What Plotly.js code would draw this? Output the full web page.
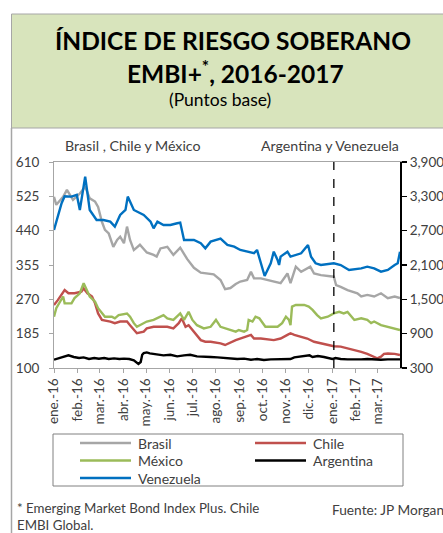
<!DOCTYPE html>
<html>
<head>
<meta charset="utf-8">
<script src="https://cdn.plot.ly/plotly-3.0.1.min.js"></script>
<style>
html,body{margin:0;padding:0;background:#fff;}
#chart{width:443px;height:533px;}
</style>
</head>
<body>
<div id="chart"></div>
<script>
// ---------- DATA ----------
const monthTicks = ['2016-01-01','2016-02-01','2016-03-01','2016-04-01','2016-05-01','2016-06-01','2016-07-01','2016-08-01','2016-09-01','2016-10-01','2016-11-01','2016-12-01','2017-01-01','2017-02-01','2017-03-01'];
const monthLabels = ['ene.-16','feb.-16','mar.-16','abr.-16','may.-16','jun.-16','jul.-16','ago.-16','sep.-16','oct.-16','nov.-16','dic.-16','ene.-17','feb.-17','mar.-17'];
const yearBreakDate = '2017-01-03';

const brasilDates = ['2016-01-01','2016-01-04','2016-01-13','2016-01-18','2016-01-26','2016-02-04','2016-02-11','2016-02-17','2016-02-24','2016-02-28','2016-03-04','2016-03-08','2016-03-13','2016-03-19','2016-03-24','2016-03-28','2016-04-02','2016-04-06','2016-04-10','2016-04-15','2016-04-23','2016-05-02','2016-05-11','2016-05-15','2016-05-20','2016-05-29','2016-06-06','2016-06-15','2016-06-24','2016-07-03','2016-07-12','2016-07-20','2016-07-29','2016-08-07','2016-08-13','2016-08-20','2016-08-27','2016-09-02','2016-09-11','2016-09-16','2016-09-20','2016-09-29','2016-10-08','2016-10-16','2016-10-25','2016-11-03','2016-11-07','2016-11-14','2016-11-21','2016-12-03','2016-12-08','2016-12-17','2016-12-26','2017-01-03','2017-01-06','2017-01-12','2017-01-21','2017-02-03','2017-02-08','2017-02-16','2017-02-25','2017-03-06','2017-03-15','2017-03-24','2017-03-31'];
const brasilValues = [524,504,524,541,516,532,549,520,512,499,462,442,433,400,417,425,409,450,417,392,405,386,380,376,396,400,380,398,370,348,336,334,332,318,295,298,308,314,318,338,322,322,318,314,310,334,310,351,338,351,334,330,328,326,305,301,293,285,277,281,277,285,273,277,273];

const chileDates = ['2016-01-01','2016-01-06','2016-01-15','2016-01-20','2016-01-28','2016-02-06','2016-02-09','2016-02-14','2016-02-20','2016-02-24','2016-02-28','2016-03-04','2016-03-15','2016-03-21','2016-03-28','2016-04-06','2016-04-10','2016-04-15','2016-04-19','2016-04-28','2016-05-02','2016-05-11','2016-05-29','2016-06-06','2016-06-13','2016-06-17','2016-06-22','2016-06-26','2016-07-03','2016-07-12','2016-07-18','2016-07-25','2016-08-07','2016-08-13','2016-08-27','2016-09-02','2016-09-11','2016-09-16','2016-09-20','2016-09-29','2016-10-16','2016-10-25','2016-11-03','2016-11-07','2016-11-12','2016-11-21','2016-11-29','2016-12-08','2016-12-17','2016-12-26','2017-01-03','2017-01-12','2017-01-21','2017-01-30','2017-02-08','2017-02-16','2017-02-25','2017-03-01','2017-03-06','2017-03-10','2017-03-15','2017-03-24','2017-03-31'];
const chileValues = [256,268,293,285,285,289,297,285,277,260,235,219,215,211,215,215,206,194,186,190,198,202,202,198,211,223,202,206,190,169,165,165,161,157,169,173,178,182,173,173,169,173,182,186,182,178,173,165,161,157,154,153,149,145,140,135,128,124,128,135,136,135,132];

const mexicoDates = ['2016-01-01','2016-01-04','2016-01-13','2016-01-15','2016-01-24','2016-01-28','2016-02-04','2016-02-09','2016-02-17','2016-02-24','2016-02-28','2016-03-04','2016-03-08','2016-03-17','2016-03-21','2016-03-26','2016-04-06','2016-04-10','2016-04-15','2016-04-19','2016-04-23','2016-05-02','2016-05-11','2016-05-20','2016-05-24','2016-05-29','2016-06-06','2016-06-15','2016-06-20','2016-06-26','2016-07-01','2016-07-07','2016-07-16','2016-07-25','2016-08-01','2016-08-07','2016-08-13','2016-08-20','2016-08-27','2016-08-31','2016-09-07','2016-09-11','2016-09-13','2016-09-18','2016-09-22','2016-09-27','2016-10-01','2016-10-05','2016-10-21','2016-10-27','2016-11-01','2016-11-05','2016-11-07','2016-11-09','2016-11-14','2016-11-25','2016-12-01','2016-12-06','2016-12-12','2016-12-17','2016-12-26','2017-01-03','2017-01-10','2017-01-16','2017-01-21','2017-01-25','2017-01-30','2017-02-08','2017-02-16','2017-02-21','2017-02-25','2017-03-06','2017-03-15','2017-03-24','2017-03-31'];
const mexicoValues = [227,248,277,260,260,273,285,310,277,264,248,235,227,227,223,231,235,227,211,202,206,215,219,227,231,223,219,235,219,239,219,206,198,202,219,202,198,194,190,194,190,194,219,215,227,223,211,202,202,211,227,219,206,252,256,256,252,244,231,223,227,235,239,235,239,231,219,223,219,211,215,206,202,198,194];

const argentinaDates = ['2016-01-01','2016-01-09','2016-01-15','2016-01-20','2016-01-27','2016-02-03','2016-02-09','2016-02-16','2016-02-23','2016-02-29','2016-03-07','2016-03-13','2016-03-20','2016-03-27','2016-04-02','2016-04-09','2016-04-15','2016-04-21','2016-04-24','2016-04-26','2016-04-28','2016-05-02','2016-05-06','2016-05-15','2016-05-24','2016-06-02','2016-06-11','2016-06-20','2016-06-28','2016-07-07','2016-07-16','2016-07-25','2016-08-03','2016-08-12','2016-08-20','2016-08-29','2016-09-07','2016-09-16','2016-09-24','2016-10-03','2016-10-12','2016-10-21','2016-10-29','2016-11-07','2016-11-12','2016-11-16','2016-11-25','2016-12-02','2016-12-06','2016-12-13','2016-12-21','2016-12-26','2017-01-01','2017-01-05','2017-01-12','2017-01-21','2017-01-30','2017-02-08','2017-02-16','2017-02-25','2017-03-06','2017-03-15','2017-03-24','2017-03-31'];
const argentinaValues = [445,474,503,521,492,474,486,457,474,463,474,457,468,457,463,457,434,370,405,532,561,573,556,532,521,532,503,521,532,503,492,492,486,474,463,457,463,445,457,439,451,457,451,457,486,492,498,521,492,509,492,474,457,474,457,451,445,451,457,445,445,451,451,451];

const venezuelaDates = ['2016-01-01','2016-01-11','2016-01-15','2016-01-24','2016-01-31','2016-02-04','2016-02-11','2016-02-17','2016-02-26','2016-03-06','2016-03-15','2016-03-21','2016-03-28','2016-04-04','2016-04-07','2016-04-15','2016-04-28','2016-05-07','2016-05-11','2016-05-16','2016-05-24','2016-06-02','2016-06-11','2016-06-15','2016-06-20','2016-07-03','2016-07-12','2016-07-18','2016-07-25','2016-08-07','2016-08-16','2016-08-25','2016-09-02','2016-09-11','2016-09-20','2016-09-24','2016-10-01','2016-10-04','2016-10-12','2016-10-16','2016-10-21','2016-10-23','2016-10-25','2016-11-03','2016-11-07','2016-11-21','2016-11-30','2016-12-04','2016-12-10','2016-12-17','2017-01-03','2017-01-12','2017-01-23','2017-02-08','2017-02-16','2017-02-25','2017-03-06','2017-03-15','2017-03-24','2017-03-28','2017-03-31'];
const venezuelaValues = [2712,3179,3300,3295,3325,3062,3644,3062,2887,2887,2857,2770,2974,3062,3295,3062,2974,2857,2741,2857,2800,2800,2829,2841,2537,2537,2480,2392,2508,2560,2450,2421,2363,2333,2305,2363,2013,1908,2130,2333,2188,2100,2246,2333,2246,2305,2450,2246,2130,2100,2130,2100,2013,2042,2071,2042,1983,2013,2100,2130,2333];

const leftTicks = [100,185,270,355,440,525,610];
const rightTicks = [300,900,1500,2100,2700,3300,3900];

// ---------- CHART ----------
const FONT = 'Lato, "Open Sans", sans-serif';
const TXT = '#404040';
const W = 2.4;

const traces = [
  {name:'Brasil', x:brasilDates, y:brasilValues, type:'scatter', mode:'lines', line:{color:'#a6a6a6', width:W}, yaxis:'y'},
  {name:'Chile', x:chileDates, y:chileValues, type:'scatter', mode:'lines', line:{color:'#c0504d', width:W}, yaxis:'y'},
  {name:'México', x:mexicoDates, y:mexicoValues, type:'scatter', mode:'lines', line:{color:'#9bbb59', width:W}, yaxis:'y'},
  {name:'Argentina', x:argentinaDates, y:argentinaValues, type:'scatter', mode:'lines', line:{color:'#000000', width:W}, yaxis:'y2'},
  {name:'Venezuela', x:venezuelaDates, y:venezuelaValues, type:'scatter', mode:'lines', line:{color:'#0070c0', width:W}, yaxis:'y2'}
];

// paper coordinates helpers for decorations (plot area: x 54..400, y 162..368 px)
const PL = 54, PR = 400, PT = 162, PB = 368;
const px = v => (v - PL) / (PR - PL);
const py = v => (PB - v) / (PB - PT);

const shapes = [
  {type: 'rect', xref: 'paper', yref: 'paper', x0: px(11.5), x1: px(460), y0: py(128), y1: py(14),
   fillcolor: '#d8e4bc', line: {color: '#a6a6a6', width: 1}, layer: 'below'},
  {type: 'line', xref: 'paper', yref: 'paper', x0: px(11.5), x1: px(11.5), y0: py(128), y1: py(540),
   line: {color: '#a6a6a6', width: 1.5}},
  {type: 'line', xref: 'x', yref: 'paper', x0: yearBreakDate, x1: yearBreakDate, y0: 0, y1: 1,
   line: {color: '#000', width: 1.3, dash: 'dash'}},
  // legend frame
  {type: 'rect', xref: 'paper', yref: 'paper', x0: px(53), x1: px(403), y0: py(486), y1: py(434),
   fillcolor: 'rgba(0,0,0,0)', line: {color: '#808080', width: 1}}
];

const annotations = [
  {text: '<b>ÍNDICE DE RIESGO SOBERANO</b>', xref: 'paper', yref: 'paper', x: px(233), y: py(40),
   showarrow: false, xanchor: 'center', yanchor: 'middle', font: {size: 24.5, color: '#000'}},
  {text: '<b>EMBI+<sup>*</sup>, 2016-2017</b>', xref: 'paper', yref: 'paper', x: px(235), y: py(72),
   showarrow: false, xanchor: 'center', yanchor: 'middle', font: {size: 24.5, color: '#000'}},
  {text: '(Puntos base)', xref: 'paper', yref: 'paper', x: px(220), y: py(100),
   showarrow: false, xanchor: 'center', yanchor: 'middle', font: {size: 17.5, color: '#000'}},
  {text: 'Brasil , Chile y México', xref: 'paper', yref: 'paper', x: px(133), y: py(145),
   showarrow: false, xanchor: 'center', yanchor: 'middle', font: {size: 14.2, color: TXT}},
  {text: 'Argentina y Venezuela', xref: 'paper', yref: 'paper', x: px(330), y: py(145),
   showarrow: false, xanchor: 'center', yanchor: 'middle', font: {size: 14.2, color: TXT}},
  {text: '* Emerging Market Bond Index Plus. Chile<br>EMBI Global.', xref: 'paper', yref: 'paper', x: px(15), y: py(498),
   showarrow: false, xanchor: 'left', yanchor: 'top', align: 'left', font: {size: 13.3, color: TXT}},
  {text: 'Fuente: JP Morgan', xref: 'paper', yref: 'paper', x: px(330), y: py(509),
   showarrow: false, xanchor: 'left', yanchor: 'middle', align: 'left', font: {size: 13.7, color: TXT}}
];

// legend (two columns, built from the trace list)
const legColX = [80, 255], legRowY = [443, 460.5, 478], legSample = 51;
traces.forEach((t, i) => {
  const cx = legColX[i % 2], ry = legRowY[Math.floor(i / 2)];
  shapes.push({type: 'line', xref: 'paper', yref: 'paper', x0: px(cx), x1: px(cx + legSample), y0: py(ry), y1: py(ry),
               line: {color: t.line.color, width: 2.6}});
  annotations.push({text: t.name, xref: 'paper', yref: 'paper', x: px(cx + legSample + 5), y: py(ry),
                    showarrow: false, xanchor: 'left', yanchor: 'middle', font: {size: 14, color: TXT}});
});

const layout = {
  width: 443, height: 533,
  margin: {l: PL, r: 443 - PR, t: PT, b: 533 - PB, pad: 0},
  paper_bgcolor: '#ffffff', plot_bgcolor: '#ffffff',
  font: {family: FONT, color: TXT, size: 13},
  showlegend: false,
  xaxis: {
    type: 'date', range: ['2016-01-01', '2017-03-31'],
    tickmode: 'array', tickvals: monthTicks, ticktext: monthLabels,
    tickangle: -90, ticks: 'outside', ticklen: 4, tickcolor: '#a6a6a6',
    showline: true, linecolor: '#a6a6a6', linewidth: 1, mirror: true,
    showgrid: false, zeroline: false, tickfont: {size: 13.5, color: TXT}, fixedrange: true
  },
  yaxis: {
    range: [100, 610], tickmode: 'array', tickvals: leftTicks,
    ticks: 'outside', ticklen: 4, tickcolor: '#a6a6a6', ticklabelstandoff: 7,
    showline: true, linecolor: '#a6a6a6', linewidth: 1,
    showgrid: false, zeroline: false, tickfont: {size: 13.5, color: TXT}
  },
  yaxis2: {
    range: [300, 3900], tickmode: 'array', tickvals: rightTicks, tickformat: ',d',
    overlaying: 'y', side: 'right',
    ticks: 'outside', ticklen: 5, tickcolor: '#000', tickwidth: 1.5,
    showline: true, linecolor: '#000', linewidth: 2,
    showgrid: false, zeroline: false, tickfont: {size: 13.5, color: TXT}
  },
  shapes: shapes,
  annotations: annotations
};

Plotly.newPlot('chart', traces, layout, {displayModeBar: false, staticPlot: true});
</script>
</body>
</html>
